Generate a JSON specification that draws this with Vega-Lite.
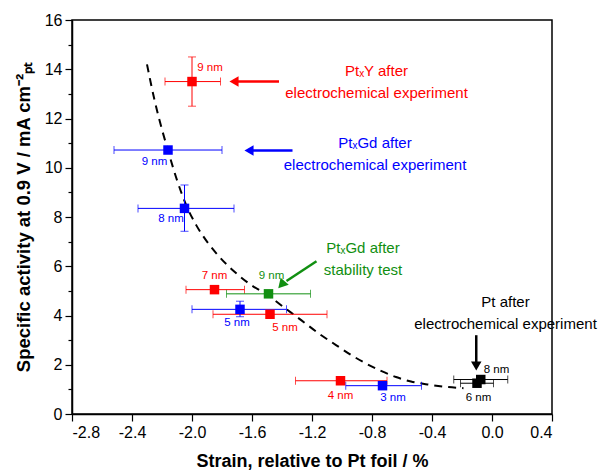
{
  "$schema": "https://vega.github.io/schema/vega-lite/v6.json",
  "autosize": "none",
  "width": 480,
  "height": 394,
  "padding": {"left": 72, "top": 20, "right": 63, "bottom": 56},
  "background": "white",
  "config": {
    "font": "Liberation Sans",
    "view": {"stroke": "black", "strokeWidth": 1.5},
    "axis": {"domainColor": "black", "domainWidth": 1.5, "tickColor": "black", "tickWidth": 1.2, "labelColor": "black", "titleColor": "black", "labelFontSize": 16, "titleFontSize": 18, "titleFontWeight": "bold", "grid": false}
  },
  "datasets": {
    "pts": [
      {"grp": "PtxY", "lab": "9 nm", "x": -2.0, "y": 13.5, "xlo": -2.18, "xhi": -1.81, "ylo": 12.5, "yhi": 14.5},
      {"grp": "PtxGd", "lab": "9 nm", "x": -2.16, "y": 10.72, "xlo": -2.52, "xhi": -1.8, "ylo": null, "yhi": null},
      {"grp": "PtxGd", "lab": "8 nm", "x": -2.05, "y": 8.35, "xlo": -2.36, "xhi": -1.72, "ylo": 7.42, "yhi": 9.3},
      {"grp": "PtxY", "lab": "7 nm", "x": -1.85, "y": 5.05, "xlo": -2.04, "xhi": -1.65, "ylo": null, "yhi": null},
      {"grp": "PtxGd stab", "lab": "9 nm", "x": -1.49, "y": 4.88, "xlo": -1.77, "xhi": -1.21, "ylo": null, "yhi": null},
      {"grp": "PtxGd", "lab": "5 nm", "x": -1.68, "y": 4.25, "xlo": -2.0, "xhi": -1.37, "ylo": 3.95, "yhi": 4.58},
      {"grp": "PtxY", "lab": "5 nm", "x": -1.48, "y": 4.05, "xlo": -1.86, "xhi": -1.1, "ylo": null, "yhi": null},
      {"grp": "PtxY", "lab": "4 nm", "x": -1.01, "y": 1.35, "xlo": -1.31, "xhi": -0.7, "ylo": null, "yhi": null},
      {"grp": "PtxGd", "lab": "3 nm", "x": -0.73, "y": 1.15, "xlo": -0.975, "xhi": -0.47, "ylo": null, "yhi": null},
      {"grp": "Pt", "lab": "6 nm", "x": -0.1, "y": 1.25, "xlo": -0.21, "xhi": 0.01, "ylo": null, "yhi": null},
      {"grp": "Pt", "lab": "8 nm", "x": -0.075, "y": 1.4, "xlo": -0.255, "xhi": 0.105, "ylo": null, "yhi": null}
    ],
    "labels": [
      {"grp": "PtxY", "t": "9 nm", "x": -1.88, "y": 14.05},
      {"grp": "PtxGd", "t": "9 nm", "x": -2.25, "y": 10.25},
      {"grp": "PtxGd", "t": "8 nm", "x": -2.14, "y": 7.9},
      {"grp": "PtxY", "t": "7 nm", "x": -1.85, "y": 5.6},
      {"grp": "PtxGd stab", "t": "9 nm", "x": -1.47, "y": 5.6},
      {"grp": "PtxGd", "t": "5 nm", "x": -1.7, "y": 3.7},
      {"grp": "PtxY", "t": "5 nm", "x": -1.38, "y": 3.5},
      {"grp": "PtxY", "t": "4 nm", "x": -1.01, "y": 0.73},
      {"grp": "PtxGd", "t": "3 nm", "x": -0.66, "y": 0.67},
      {"grp": "Pt", "t": "8 nm", "x": 0.03, "y": 1.8},
      {"grp": "Pt", "t": "6 nm", "x": -0.09, "y": 0.65}
    ],
    "notes": [
      {"grp": "PtxY", "t": "PtₓY after", "x": -0.77, "y": 13.92},
      {"grp": "PtxY", "t": "electrochemical experiment", "x": -0.77, "y": 13.03},
      {"grp": "PtxGd", "t": "PtₓGd after", "x": -0.78, "y": 11.02},
      {"grp": "PtxGd", "t": "electrochemical experiment", "x": -0.78, "y": 10.1},
      {"grp": "PtxGd stab", "t": "PtₓGd after", "x": -0.86, "y": 6.75},
      {"grp": "PtxGd stab", "t": "stability test", "x": -0.86, "y": 5.85},
      {"grp": "Pt", "t": "Pt after", "x": 0.09, "y": 4.55},
      {"grp": "Pt", "t": "electrochemical experiment", "x": 0.09, "y": 3.65}
    ],
    "arrows": [
      {"grp": "PtxY", "x": -1.42, "y": 13.5, "x2": -1.7, "y2": 13.5},
      {"grp": "PtxGd", "x": -1.33, "y": 10.7, "x2": -1.6, "y2": 10.7},
      {"grp": "PtxGd stab", "x": -1.17, "y": 6.2, "x2": -1.37, "y2": 5.4},
      {"grp": "Pt", "x": -0.105, "y": 3.2, "x2": -0.105, "y2": 2.05}
    ],
    "heads": [
      {"grp": "PtxY", "x": -1.72, "y": 13.5, "dir": "left"},
      {"grp": "PtxGd", "x": -1.62, "y": 10.7, "dir": "left"},
      {"grp": "PtxGd stab", "x": -1.39, "y": 5.32, "dir": "downleft"},
      {"grp": "Pt", "x": -0.105, "y": 1.95, "dir": "down"}
    ],
    "curve": [
      {"x": -2.3, "y": 14.2}, {"x": -2.25, "y": 12.75}, {"x": -2.2, "y": 11.55}, {"x": -2.16, "y": 10.7},
      {"x": -2.1, "y": 9.5}, {"x": -2.04, "y": 8.5}, {"x": -1.97, "y": 7.65}, {"x": -1.9, "y": 7.0},
      {"x": -1.82, "y": 6.4}, {"x": -1.73, "y": 5.85}, {"x": -1.62, "y": 5.3}, {"x": -1.49, "y": 4.8},
      {"x": -1.38, "y": 4.3}, {"x": -1.27, "y": 3.8}, {"x": -1.15, "y": 3.25}, {"x": -1.04, "y": 2.8},
      {"x": -0.94, "y": 2.4}, {"x": -0.84, "y": 2.05}, {"x": -0.74, "y": 1.75}, {"x": -0.64, "y": 1.5},
      {"x": -0.54, "y": 1.32}, {"x": -0.43, "y": 1.2}, {"x": -0.3, "y": 1.1}, {"x": -0.19, "y": 1.05}
    ]
  },
  "encoding": {
    "x": {"field": "x", "type": "quantitative", "scale": {"domain": [-2.8, 0.4], "nice": false, "zero": false},
      "axis": {"title": "Strain, relative to Pt foil / %", "values": [-2.8, -2.4, -2.0, -1.6, -1.2, -0.8, -0.4, 0.0, 0.4], "labelExpr": "(datum.value < -0.001 ? '-' : '') + format(abs(datum.value), '.1f')", "tickSize": 7, "labelPadding": 3, "titlePadding": 12}},
    "y": {"field": "y", "type": "quantitative", "scale": {"domain": [0, 16], "nice": false},
      "axis": {"title": "Specific activity at 0.9 V / mA cm⁻²ₚₜ", "titleFontSize": 18.5, "values": [0,1,2,3,4,5,6,7,8,9,10,11,12,13,14,15,16], "labelExpr": "datum.value % 2 == 0 ? datum.label : ''", "tickSize": {"condition": {"test": "datum.value % 2 == 1", "value": 4}, "value": 7}, "labelPadding": 3, "titlePadding": 11}},
    "color": {"field": "grp", "type": "nominal", "legend": null,
      "scale": {"domain": ["PtxY", "PtxGd", "PtxGd stab", "Pt"], "range": ["#ff0000", "#0000ff", "#118f11", "#000000"]}}
  },
  "layer": [
    {"data": {"name": "curve"}, "mark": {"type": "line", "color": "black", "strokeWidth": 2, "strokeDash": [8, 6], "interpolate": "monotone"},
      "encoding": {"color": {"value": "black"}}},
    {"data": {"name": "pts"}, "mark": {"type": "errorbar", "ticks": {"size": 8}, "thickness": 1},
      "encoding": {"x": {"field": "xlo", "type": "quantitative"}, "x2": {"field": "xhi"}}},
    {"data": {"name": "pts"}, "transform": [{"filter": "isValid(datum.ylo)"}], "mark": {"type": "errorbar", "ticks": {"size": 8}, "thickness": 1},
      "encoding": {"y": {"field": "ylo", "type": "quantitative"}, "y2": {"field": "yhi"}}},
    {"data": {"name": "pts"}, "mark": {"type": "point", "shape": "square", "filled": true, "opacity": 1, "size": 90}},
    {"data": {"name": "labels"}, "mark": {"type": "text", "fontSize": 11.5, "align": "center", "baseline": "middle"},
      "encoding": {"text": {"field": "t"}}},
    {"data": {"name": "notes"}, "mark": {"type": "text", "fontSize": 15, "align": "center", "baseline": "middle"},
      "encoding": {"text": {"field": "t"}}},
    {"data": {"name": "arrows"}, "mark": {"type": "rule", "strokeWidth": 2.5},
      "encoding": {"x2": {"field": "x2"}, "y2": {"field": "y2"}}},
    {"data": {"name": "heads"}, "mark": {"type": "point", "filled": true, "opacity": 1, "size": 110},
      "encoding": {"shape": {"field": "dir", "type": "nominal", "legend": null, "scale": {"domain": ["left", "down", "downleft"], "range": ["triangle-left", "triangle-down", "M-0.55,-1L1,0.35L-1,1Z"]}}}}
  ]
}
